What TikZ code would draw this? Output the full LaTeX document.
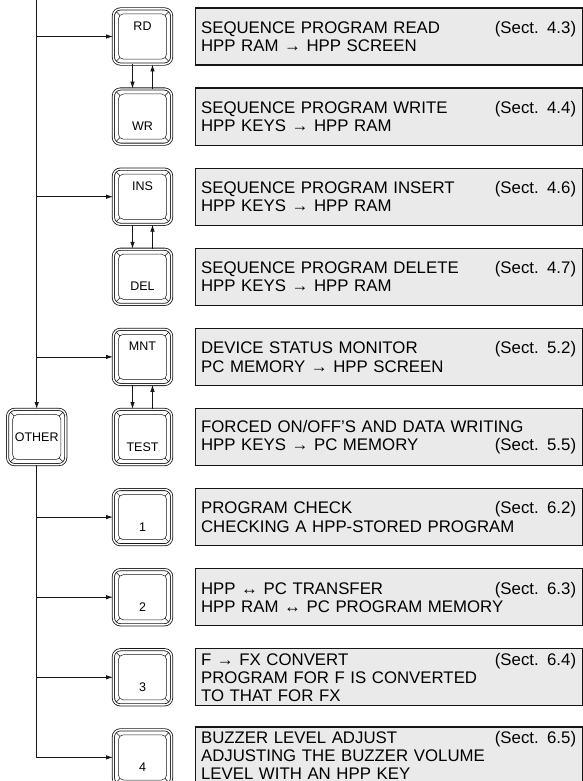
\documentclass[tikz,border=0pt]{standalone}
\usepackage{fontspec}
\setmainfont{Liberation Sans}
\usepackage{tikz}
\usetikzlibrary{arrows.meta,positioning}
\definecolor{HInk}{HTML}{161616}
\definecolor{HScreen}{HTML}{EAEAEA}

\begin{document}
\begin{tikzpicture}[x=1pt,y=1pt,
  node distance=24.1pt and 22.5pt,
  every node/.style={font=\fontsize{16.8}{18.3}\selectfont},
  keycap/.style={draw=HInk,double,double distance=1.4pt,line width=0.8pt,
    rounded corners=7pt,minimum width=58.2pt,minimum height=55.2pt,inner sep=0pt,
    font=\fontsize{12.5}{14}\selectfont,
    path picture={
      \draw[line width=0.5pt,rounded corners=5pt]
        ([shift={(5pt,5pt)}]path picture bounding box.south west) rectangle
        ([shift={(-5pt,-5pt)}]path picture bounding box.north east);
      \draw[line width=0.5pt]
        ([shift={(2pt,2pt)}]path picture bounding box.south west) -- ++(4.5pt,4.5pt)
        ([shift={(-2pt,2pt)}]path picture bounding box.south east) -- ++(-4.5pt,4.5pt)
        ([shift={(2pt,-2pt)}]path picture bounding box.north west) -- ++(4.5pt,-4.5pt)
        ([shift={(-2pt,-2pt)}]path picture bounding box.north east) -- ++(-4.5pt,-4.5pt);
    }},
  keyup/.style={keycap,label={[anchor=base,yshift=-22pt,inner sep=0pt,
    font=\fontsize{12.5}{14}\selectfont]north:#1}},
  keydown/.style={keycap,label={[anchor=base,yshift=14pt,inner sep=0pt,
    font=\fontsize{12.5}{14}\selectfont]south:#1}},
  info/.style={draw=HInk,line width=1.2pt,fill=HScreen,
    minimum width=387pt,minimum height=57pt,text width=375pt,
    inner xsep=6pt,inner ysep=0pt,align=left},
  info3/.style={info,font=\fontsize{16.8}{17.8}\selectfont},
  arr/.style={-{Latex[length=7pt,width=4.5pt]},line width=0.8pt,draw=HInk}
]
  \useasboundingbox (0,0) rectangle (583,-781);
  % key column
  \node[keyup=RD] (rd) at (142.5,-36.5) {};
  \node[keydown=WR,below=of rd] (wr) {};
  \node[keyup=INS,below=of wr] (ins) {};
  \node[keydown=DEL,below=of ins] (del) {};
  \node[keyup=MNT,below=of del] (mnt) {};
  \node[keydown=TEST,below=of mnt] (test) {};
  \node[keydown=1,below=of test] (k1) {};
  \node[keydown=2,below=of k1] (k2) {};
  \node[keydown=3,below=of k2] (k3) {};
  \node[keydown=4,below=of k3] (k4) {};
  \node[keycap,left=46.8pt of test] (other) {OTHER};
  % screens
  \node[info,right=of rd] (rdtxt) {SEQUENCE PROGRAM READ\hfill(Sect. 4.3)\\HPP RAM → HPP SCREEN};
  \node[info,right=of wr] (wrtxt) {SEQUENCE PROGRAM WRITE\hfill(Sect. 4.4)\\HPP KEYS → HPP RAM};
  \node[info,right=of ins] (instxt) {SEQUENCE PROGRAM INSERT\hfill(Sect. 4.6)\\HPP KEYS → HPP RAM};
  \node[info,right=of del] (deltxt) {SEQUENCE PROGRAM DELETE\hfill(Sect. 4.7)\\HPP KEYS → HPP RAM};
  \node[info,right=of mnt] (mnttxt) {DEVICE STATUS MONITOR\hfill(Sect. 5.2)\\PC MEMORY → HPP SCREEN};
  \node[info,right=of test] (testtxt) {FORCED ON/OFF'S AND DATA WRITING\\HPP KEYS → PC MEMORY\hfill(Sect. 5.5)};
  \node[info,right=of k1] (k1txt) {PROGRAM CHECK\hfill(Sect. 6.2)\\CHECKING A HPP-STORED PROGRAM};
  \node[info,right=of k2] (k2txt) {HPP ↔ PC TRANSFER\hfill(Sect. 6.3)\\HPP RAM ↔ PC PROGRAM MEMORY};
  \node[info3,right=of k3] (k3txt) {F → FX CONVERT\hfill(Sect. 6.4)\\PROGRAM FOR F IS CONVERTED\\TO THAT FOR FX};
  \node[info3,right=of k4,yshift=2pt] (k4txt) {BUZZER LEVEL ADJUST\hfill(Sect. 6.5)\\ADJUSTING THE BUZZER VOLUME\\LEVEL WITH AN HPP KEY};
  % connectors
  \coordinate (top) at (other.north |- 0,0);
  \coordinate (bot) at (other.south |- k4);
  \draw[arr] (top) -- (other.north);
  \draw[arr] (other.south) -- (bot) -- (k4.west);
  \foreach \k in {rd,ins,mnt}
    {\draw[arr] (top |- \k) -- (\k.west);}
  \foreach \k in {k1,k2,k3}
    {\draw[arr] (bot |- \k) -- (\k.west);}
  \foreach \a/\b in {rd/wr,ins/del,mnt/test}
    {\draw[arr] ([xshift=-10pt]\a.south) -- ([xshift=-10pt]\b.north);
     \draw[arr] ([xshift=10pt]\b.north) -- ([xshift=10pt]\a.south);}
\end{tikzpicture}
\end{document}
